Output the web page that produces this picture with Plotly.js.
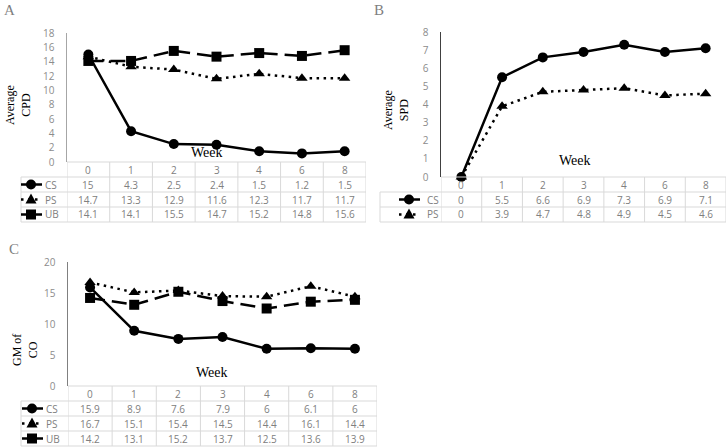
<!DOCTYPE html>
<html>
<head>
<meta charset="utf-8">
<script src="https://cdn.plot.ly/plotly-3.0.1.min.js"></script>
<style>html,body{margin:0;padding:0;background:#fff;}#chart{width:727px;height:448px;}</style>
</head>
<body>
<div id="chart"></div>
<script>
// ---- data ----
const weeks = ['0', '1', '2', '3', '4', '6', '8'];
const seriesNames = ['CS', 'PS', 'UB'];
const cpdCS = [15, 4.3, 2.5, 2.4, 1.5, 1.2, 1.5];
const cpdPS = [14.7, 13.3, 12.9, 11.6, 12.3, 11.7, 11.7];
const cpdUB = [14.1, 14.1, 15.5, 14.7, 15.2, 14.8, 15.6];
const spdCS = [0, 5.5, 6.6, 6.9, 7.3, 6.9, 7.1];
const spdPS = [0, 3.9, 4.7, 4.8, 4.9, 4.5, 4.6];
const coCS = [15.9, 8.9, 7.6, 7.9, 6, 6.1, 6];
const coPS = [16.7, 15.1, 15.4, 14.5, 14.4, 16.1, 14.4];
const coUB = [14.2, 13.1, 15.2, 13.7, 12.5, 13.6, 13.9];

// ---- geometry helpers ----
const W = 727, H = 448;
const px = x => x / W;
const py = y => 1 - y / H;
const xi = weeks.map((_, i) => i);

const styles = {
  CS: {dash: 'solid', symbol: 'circle', size: 10},
  PS: {dash: '2.5px,4.5px', symbol: 'triangle-up', size: 10},
  UB: {dash: '15px,7px', symbol: 'square', size: 10}
};

const panels = [
  {id: '', label: 'A', title: 'Average<br>CPD', data: {CS: cpdCS, PS: cpdPS, UB: cpdUB},
   x0: 67, x1: 366, yTop: 33, yBot: 162, range: [0, 18], dtick: 2, axisColor: '#a6a6a6',
   rows: [162, 177, 192, 207, 222], legL: 21, keyX: 31, textX: 43,
   labelPos: [9, 10], titlePos: [18, 105], weekPos: [207, 152]},
  {id: '2', label: 'B', title: 'Average<br>SPD', data: {CS: spdCS, PS: spdPS},
   x0: 441, x1: 726, yTop: 32, yBot: 177, range: [0, 8], dtick: 1, axisColor: '#404040',
   rows: [177, 192, 207, 222], legL: 380, keyX: 409, textX: 425,
   labelPos: [379, 10], titlePos: [396, 110], weekPos: [575, 160]},
  {id: '3', label: 'C', title: 'GM of<br>CO', data: {CS: coCS, PS: coPS, UB: coUB},
   x0: 68, x1: 377, yTop: 262, yBot: 386, range: [0, 20], dtick: 5, axisColor: '#808080',
   rows: [386, 401, 416, 431, 446], legL: 21, keyX: 32, textX: 44,
   labelPos: [14, 249], titlePos: [25, 350], weekPos: [212, 372]}
];

const traces = [];
const shapes = [];
const annotations = [];
const layout = {
  width: W, height: H,
  margin: {l: 0, r: 0, t: 0, b: 0},
  paper_bgcolor: '#ffffff', plot_bgcolor: 'rgba(0,0,0,0)',
  showlegend: false,
  font: {family: 'Open Sans, Liberation Sans, sans-serif', color: '#7f7f7f', size: 10}
};
const grid = '#d9d9d9';
const txtGray = '#808080';

panels.forEach(p => {
  const xa = 'xaxis' + p.id, ya = 'yaxis' + p.id;
  const xr = 'x' + p.id, yr = 'y' + p.id;
  layout[xa] = {domain: [px(p.x0), px(p.x1)], anchor: yr, range: [-0.5, 6.5],
    showticklabels: false, showline: false, showgrid: false, zeroline: false, ticks: ''};
  layout[ya] = {domain: [py(p.yBot), py(p.yTop)], anchor: xr, range: p.range, dtick: p.dtick,
    showline: true, linecolor: p.axisColor, linewidth: 1.5, showgrid: false, zeroline: false,
    ticks: '', ticklabelstandoff: 9,
    tickfont: {family: 'Open Sans, sans-serif', size: 10, color: '#8c8c8c'}};

  const names = Object.keys(p.data);
  names.forEach(n => {
    const s = styles[n];
    traces.push({type: 'scatter', mode: 'lines+markers', x: xi, y: p.data[n], xaxis: xr, yaxis: yr,
      name: n, cliponaxis: false,
      line: {color: '#000', width: 2.5, dash: s.dash},
      marker: {symbol: s.symbol, size: s.size, color: '#000'}});
  });

  // panel label
  annotations.push({xref: 'paper', yref: 'paper', x: px(p.labelPos[0]), y: py(p.labelPos[1]),
    text: p.label, showarrow: false, xanchor: 'center', yanchor: 'middle',
    font: {family: 'Liberation Serif, serif', size: 15, color: '#7f7f7f'}});
  // y title
  annotations.push({xref: 'paper', yref: 'paper', x: px(p.titlePos[0]), y: py(p.titlePos[1]),
    text: p.title, textangle: -90, showarrow: false, xanchor: 'center', yanchor: 'middle',
    font: {family: 'Liberation Serif, serif', size: 12, color: '#000'}});
  // Week
  annotations.push({xref: 'paper', yref: 'paper', x: px(p.weekPos[0]), y: py(p.weekPos[1]),
    text: 'Week', showarrow: false, xanchor: 'center', yanchor: 'middle',
    font: {family: 'Liberation Serif, serif', size: 14, color: '#000'}});

  // table grid
  const r = p.rows;
  const top = r[0], bot = r[r.length - 1];
  shapes.push({type: 'line', xref: 'paper', yref: 'paper', x0: px(p.x0), x1: px(p.x1), y0: py(top), y1: py(top), line: {color: grid, width: 1}});
  for (let k = 1; k < r.length; k++) {
    shapes.push({type: 'line', xref: 'paper', yref: 'paper', x0: px(p.legL), x1: px(p.x1), y0: py(r[k]), y1: py(r[k]), line: {color: grid, width: 1}});
  }
  shapes.push({type: 'line', xref: 'paper', yref: 'paper', x0: px(p.legL), x1: px(p.legL), y0: py(r[1]), y1: py(bot), line: {color: grid, width: 1}});
  for (let k = 0; k <= weeks.length; k++) {
    shapes.push({type: 'line', xref: xr, yref: 'paper', x0: k - 0.5, x1: k - 0.5, y0: py(top), y1: py(bot), line: {color: grid, width: 1}});
  }
  // header
  weeks.forEach((w, i) => {
    annotations.push({xref: xr, yref: 'paper', x: i, y: py((r[0] + r[1]) / 2), text: w, showarrow: false,
      xanchor: 'center', yanchor: 'middle', font: {size: 10, color: txtGray}});
  });
  // rows
  names.forEach((n, j) => {
    const cy = (r[j + 1] + r[j + 2]) / 2;
    p.data[n].forEach((v, i) => {
      annotations.push({xref: xr, yref: 'paper', x: i, y: py(cy), text: String(v), showarrow: false,
        xanchor: 'center', yanchor: 'middle', font: {size: 10, color: txtGray}});
    });
    // legend key
    annotations.push({xref: 'paper', yref: 'paper', x: px(p.textX), y: py(cy), text: n, showarrow: false,
      xanchor: 'left', yanchor: 'middle', font: {size: 10, color: txtGray}});
    const kx = p.keyX, L = kx - 10, R = kx + 11;
    if (n === 'CS') {
      shapes.push({type: 'line', xref: 'paper', yref: 'paper', x0: px(L), x1: px(R), y0: py(cy), y1: py(cy), line: {color: '#000', width: 2.5}});
      shapes.push({type: 'circle', xref: 'paper', yref: 'paper', x0: px(kx - 5), x1: px(kx + 5), y0: py(cy - 5), y1: py(cy + 5), fillcolor: '#000', line: {color: '#000', width: 0}});
    } else if (n === 'PS') {
      shapes.push({type: 'line', xref: 'paper', yref: 'paper', x0: px(L), x1: px(R), y0: py(cy), y1: py(cy), line: {color: '#000', width: 2.5, dash: '2.5px,4.5px'}});
      const t = `M${px(kx - 5.5)},${py(cy + 4)} L${px(kx + 5.5)},${py(cy + 4)} L${px(kx)},${py(cy - 6)} Z`;
      shapes.push({type: 'path', xref: 'paper', yref: 'paper', path: t, fillcolor: '#000', line: {color: '#000', width: 0}});
    } else {
      shapes.push({type: 'line', xref: 'paper', yref: 'paper', x0: px(L), x1: px(R), y0: py(cy), y1: py(cy), line: {color: '#000', width: 2.5}});
      shapes.push({type: 'rect', xref: 'paper', yref: 'paper', x0: px(kx - 5), x1: px(kx + 5), y0: py(cy - 5), y1: py(cy + 5), fillcolor: '#000', line: {color: '#000', width: 0}});
    }
  });
});

layout.shapes = shapes;
layout.annotations = annotations;
Plotly.newPlot('chart', traces, layout, {displayModeBar: false, staticPlot: true});
</script>
</body>
</html>
